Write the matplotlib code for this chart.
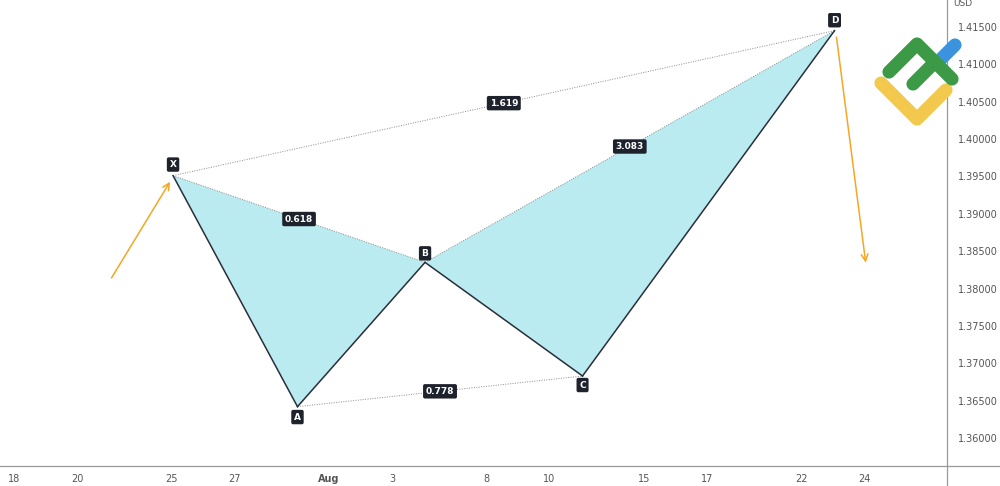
import matplotlib.pyplot as plt
from matplotlib.lines import Line2D

# trading-day index (0 = Jul 18) and price of each pattern point
points = ['X', 'A', 'B', 'C', 'D']
day_idx = [5.05, 9.0, 13.05, 18.05, 26.05]
price = [1.3951, 1.3642, 1.3835, 1.3683, 1.4145]

# fibonacci ratio labels: (from, to, text)
ratios = [('X', 'B', '0.618'), ('X', 'D', '1.619'), ('B', 'D', '3.083'), ('A', 'C', '0.778')]

# orange trend arrows (start, end) in (day index, price)
arrows = [((3.05, 1.3811), (5.0, 1.3946)),
          ((26.1, 1.4140), (27.05, 1.3831))]

tick_pos = [0, 2, 5, 7, 10, 12, 15, 17, 20, 22, 25, 27]
tick_lab = ['18', '20', '25', '27', 'Aug', '3', '8', '10', '15', '17', '22', '24']
y_ticks = [1.360, 1.365, 1.370, 1.375, 1.380, 1.385, 1.390, 1.395,
           1.400, 1.405, 1.410, 1.415]

fig = plt.figure(figsize=(10, 4.86), dpi=100)
ax = fig.add_axes([0, 20 / 486, 947 / 1000, 466 / 486])
ax.set_xlim(-0.444, 29.62)
ax.set_ylim(1.35626, 1.4186)

P = dict(zip(points, zip(day_idx, price)))
fill_col = '#b9ebf0'
dark = '#2a2e39'

# filled triangles XAB and BCD
for tri in [('X', 'A', 'B'), ('B', 'C', 'D')]:
    ax.fill([P[k][0] for k in tri], [P[k][1] for k in tri], color=fill_col, lw=0, zorder=1)

# solid legs
for a, b in [('X', 'A'), ('A', 'B'), ('B', 'C'), ('C', 'D')]:
    ax.plot([P[a][0], P[b][0]], [P[a][1], P[b][1]], color=dark, lw=1.1, zorder=3)

# dotted ratio lines and labels
for a, b, txt in ratios:
    ax.plot([P[a][0], P[b][0]], [P[a][1], P[b][1]], color='#8a8a8a', lw=0.7,
            ls=(0, (1, 1.5)), zorder=2)
    mx = (P[a][0] + P[b][0]) / 2
    my = (P[a][1] + P[b][1]) / 2
    ax.text(mx, my, txt, ha='center', va='center', fontsize=6.5, color='white',
            fontweight='bold', zorder=5,
            bbox=dict(boxstyle='round,pad=0.3,rounding_size=0.2', fc='#1e222d', ec='none'))

# point labels
offsets = {'X': 8, 'A': -7.5, 'B': 6.5, 'C': -6.5, 'D': 7.5}
for k in points:
    ax.annotate(k, P[k], xytext=(0, offsets[k]), textcoords='offset points',
                ha='center', va='center', fontsize=6.5, color='white', fontweight='bold',
                zorder=6,
                bbox=dict(boxstyle='round,pad=0.3,rounding_size=0.2', fc='#1e222d', ec='none'))

# orange arrows
for (x0, y0), (x1, y1) in arrows:
    ax.annotate('', xy=(x1, y1), xytext=(x0, y0),
                arrowprops=dict(arrowstyle='->', color='#f5a623', lw=1.1,
                                mutation_scale=12))

ax.set_xticks(tick_pos)
ax.set_xticklabels(tick_lab)
for t in ax.get_xticklabels():
    if t.get_text() == 'Aug':
        t.set_fontweight('bold')
ax.set_yticks(y_ticks)
ax.set_yticklabels(['%.5f' % v for v in y_ticks])
ax.yaxis.tick_right()
ax.tick_params(axis='both', length=0, labelsize=7, colors='#555555')
ax.tick_params(axis='x', pad=6)
ax.tick_params(axis='y', pad=8)
for s in ax.spines.values():
    s.set_visible(False)

# frame lines: bottom axis and right price scale
fig.add_artist(Line2D([0, 1], [20 / 486, 20 / 486], color='#9a9a9a', lw=0.9))
fig.add_artist(Line2D([0.947, 0.947], [0, 1], color='#9a9a9a', lw=0.9))
fig.text(0.953, 0.992, 'USD', fontsize=6.5, color='#555555', va='center')

# logo
def logo_line(xs, ys, c):
    fig.add_artist(Line2D([x / 1000 for x in xs], [1 - y / 486 for y in ys],
                          color=c, lw=9.5, solid_capstyle='round',
                          solid_joinstyle='round'))

logo_line([941, 955], [59, 45], '#3a93dc')
logo_line([881, 917, 946], [83, 119, 90], '#f2c94c')
logo_line([889, 917, 952], [72, 44, 79], '#3c9a46')
logo_line([913, 934], [84, 63], '#3c9a46')

fig.savefig('out.png', dpi=100)
